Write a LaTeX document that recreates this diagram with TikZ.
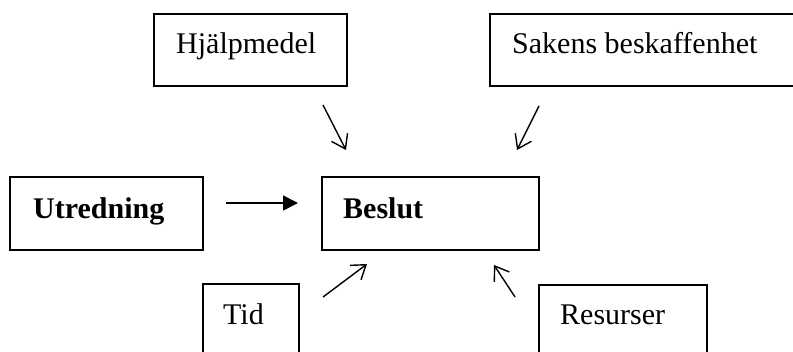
\documentclass[tikz,border=0pt]{standalone}
\usepackage{fontspec}
\setmainfont{Liberation Serif}
\usetikzlibrary{arrows.meta}
\begin{document}
\begin{tikzpicture}[x=1pt,y=-1pt,
  box/.style={draw=black, line width=1.8pt, inner sep=0pt, outer sep=0pt, anchor=north west},
  lbl/.style={anchor=base west, inner sep=0pt, font=\fontsize{30}{36}\selectfont},
  barb/.style={line width=1.4pt, -{Straight Barb[length=13pt,width=18pt,line width=1.4pt]}},
  tri/.style={line width=1.6pt, -{Triangle[length=15pt,width=15pt]}}]
\useasboundingbox (0,0) rectangle (793,351);
\clip (0,0) rectangle (793,351);
% boxes
\node[box, minimum width=193pt, minimum height=72pt] (hjbox) at (154,14) {};
\node[box, minimum width=330pt, minimum height=72pt] (sabox) at (490,14) {};
\node[box, minimum width=193pt, minimum height=73pt] (utbox) at (10,177) {};
\node[box, minimum width=217pt, minimum height=73pt] (bebox) at (322,177) {};
\node[box, minimum width=96pt, minimum height=100pt] (tibox) at (203,284) {};
\node[box, minimum width=168pt, minimum height=100pt] (rebox) at (539,285) {};
% labels
\node[lbl] (hj) at (176,53) {Hjälpmedel};
\node[lbl] (sa) at (512,53) {Sakens beskaffenhet};
\node[lbl, font=\fontsize{30}{36}\selectfont\bfseries] (ut) at (33,218) {Utredning};
\node[lbl, font=\fontsize{30}{36}\selectfont\bfseries] (be) at (343,218) {Beslut};
\node[lbl] (ti) at (223,324) {Tid};
\node[lbl] (re) at (560,324) {Resurser};
% arrow end points
\coordinate (a1s) at (323,105); \coordinate (a1e) at (346,150);
\coordinate (a2s) at (539,106); \coordinate (a2e) at (517,150);
\coordinate (a3s) at (226,203); \coordinate (a3e) at (298,203);
\coordinate (a4s) at (323,297); \coordinate (a4e) at (367,264);
\coordinate (a5s) at (515,297); \coordinate (a5e) at (494,265);
\draw[barb] (a1s) -- (a1e);
\draw[barb] (a2s) -- (a2e);
\draw[tri] (a3s) -- (a3e);
\draw[barb] (a4s) -- (a4e);
\draw[barb] (a5s) -- (a5e);
\end{tikzpicture}
\end{document}
